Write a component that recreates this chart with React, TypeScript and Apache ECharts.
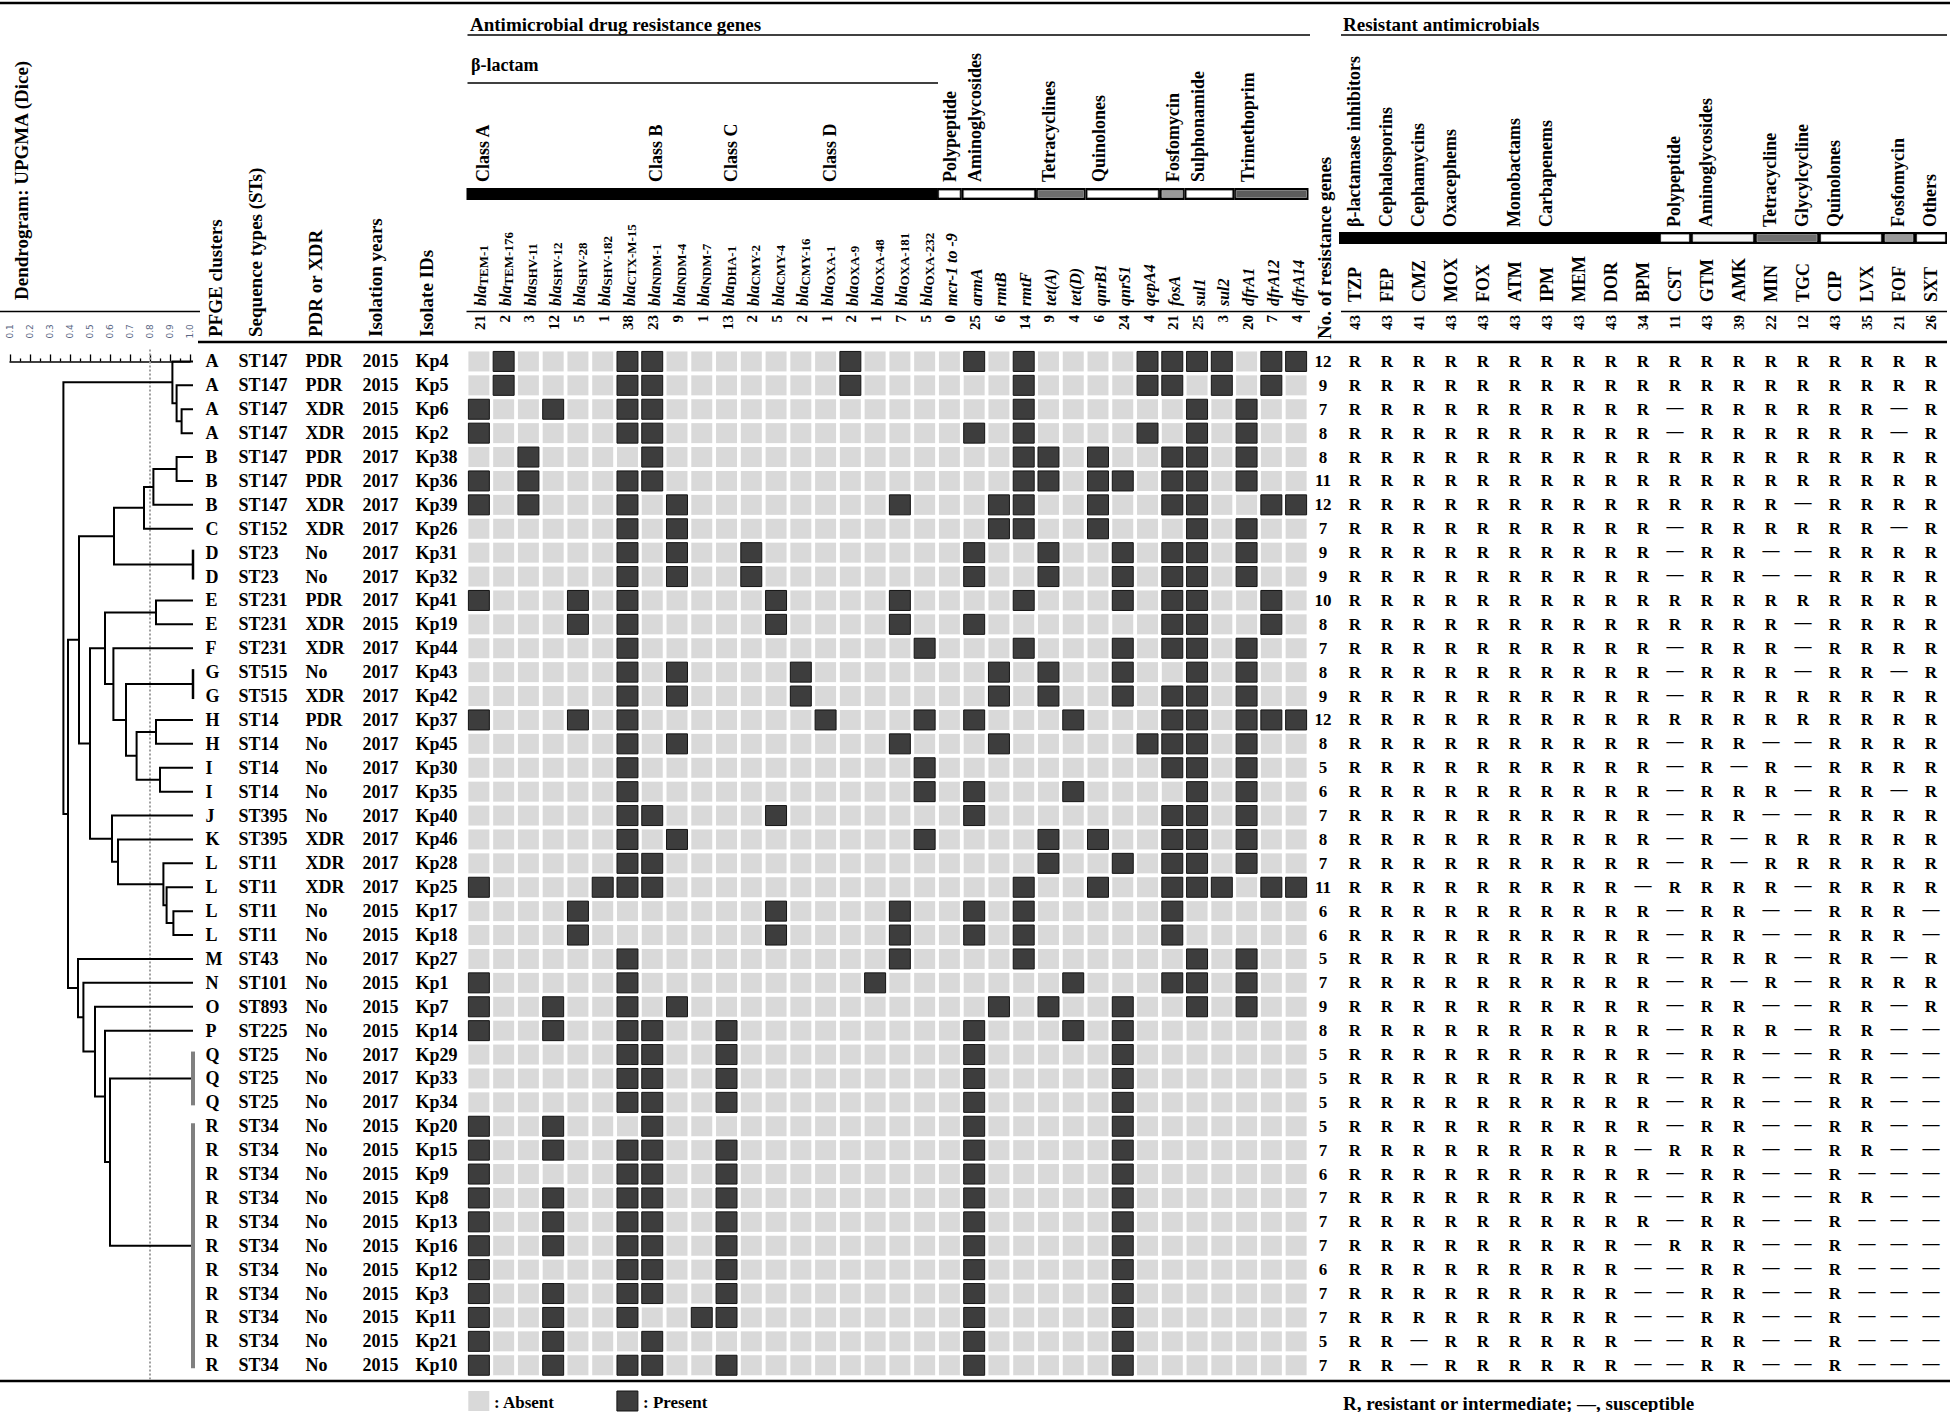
import React, { useEffect, useRef } from "react";
import * as echarts from "echarts";

// ---------------- DATA ----------------
const geneNames = [
  "blaTEM-1", "blaTEM-176", "blaSHV-11", "blaSHV-12", "blaSHV-28", "blaSHV-182", "blaCTX-M-15",
  "blaNDM-1", "blaNDM-4", "blaNDM-7", "blaDHA-1", "blaCMY-2", "blaCMY-4", "blaCMY-16",
  "blaOXA-1", "blaOXA-9", "blaOXA-48", "blaOXA-181", "blaOXA-232",
  "mcr-1 to -9", "armA", "rmtB", "rmtF", "tet(A)", "tet(D)", "qnrB1", "qnrS1", "qepA4",
  "fosA", "sul1", "sul2", "dfrA1", "dfrA12", "dfrA14",
];

const betaClassNames = ["Class A", "Class B", "Class C", "Class D"];
const betaClassStart = [0, 7, 10, 14];

const geneGroupNames = ["β-lactam", "Polypeptide", "Aminoglycosides", "Tetracyclines", "Quinolones", "Fosfomycin", "Sulphonamide", "Trimethoprim"];
const geneGroupFrom = [0, 19, 20, 23, 25, 28, 29, 31];
const geneGroupTo = [18, 19, 22, 24, 27, 28, 30, 33];

const drugNames = ["TZP", "FEP", "CMZ", "MOX", "FOX", "ATM", "IPM", "MEM", "DOR", "BPM", "CST", "GTM", "AMK", "MIN", "TGC", "CIP", "LVX", "FOF", "SXT"];
const drugGroupNames = ["β-lactamase inhibitors", "Cephalosporins", "Cephamycins", "Oxacephems", "Monobactams", "Carbapenems", "Polypeptide", "Aminoglycosides", "Tetracycline", "Glycylcycline", "Quinolones", "Fosfomycin", "Others"];
const drugGroupLabelAt = [0, 1, 2, 3, 5, 6, 10, 11, 13, 14, 15, 17, 18];
const drugBarFrom = [0, 10, 11, 13, 15, 17, 18];
const drugBarTo = [9, 10, 12, 14, 16, 17, 18];

const pfge = ["A", "A", "A", "A", "B", "B", "B", "C", "D", "D", "E", "E", "F", "G", "G", "H", "H", "I", "I", "J", "K", "L", "L", "L", "L", "M", "N", "O", "P", "Q", "Q", "Q", "R", "R", "R", "R", "R", "R", "R", "R", "R", "R", "R"];
const seqTypes = ["ST147", "ST147", "ST147", "ST147", "ST147", "ST147", "ST147", "ST152", "ST23", "ST23", "ST231", "ST231", "ST231", "ST515", "ST515", "ST14", "ST14", "ST14", "ST14", "ST395", "ST395", "ST11", "ST11", "ST11", "ST11", "ST43", "ST101", "ST893", "ST225", "ST25", "ST25", "ST25", "ST34", "ST34", "ST34", "ST34", "ST34", "ST34", "ST34", "ST34", "ST34", "ST34", "ST34"];
const pdrXdr = ["PDR", "PDR", "XDR", "XDR", "PDR", "PDR", "XDR", "XDR", "No", "No", "PDR", "XDR", "XDR", "No", "XDR", "PDR", "No", "No", "No", "No", "XDR", "XDR", "XDR", "No", "No", "No", "No", "No", "No", "No", "No", "No", "No", "No", "No", "No", "No", "No", "No", "No", "No", "No", "No"];
const years = ["2015", "2015", "2015", "2015", "2017", "2017", "2017", "2017", "2017", "2017", "2017", "2015", "2017", "2017", "2017", "2017", "2017", "2017", "2017", "2017", "2017", "2017", "2017", "2015", "2015", "2017", "2015", "2015", "2015", "2017", "2017", "2017", "2015", "2015", "2015", "2015", "2015", "2015", "2015", "2015", "2015", "2015", "2015"];
const isolateIds = ["Kp4", "Kp5", "Kp6", "Kp2", "Kp38", "Kp36", "Kp39", "Kp26", "Kp31", "Kp32", "Kp41", "Kp19", "Kp44", "Kp43", "Kp42", "Kp37", "Kp45", "Kp30", "Kp35", "Kp40", "Kp46", "Kp28", "Kp25", "Kp17", "Kp18", "Kp27", "Kp1", "Kp7", "Kp14", "Kp29", "Kp33", "Kp34", "Kp20", "Kp15", "Kp9", "Kp8", "Kp13", "Kp16", "Kp12", "Kp3", "Kp11", "Kp21", "Kp10"];

// genes present per isolate (column indices into geneNames)
const genesPresent = [
  [1, 6, 7, 15, 20, 22, 27, 28, 29, 30, 32, 33],
  [1, 6, 7, 15, 22, 27, 28, 30, 32],
  [0, 3, 6, 7, 22, 29, 31],
  [0, 6, 7, 20, 22, 27, 29, 31],
  [2, 7, 22, 23, 25, 28, 29, 31],
  [0, 2, 6, 7, 22, 23, 25, 26, 28, 29, 31],
  [0, 2, 6, 8, 17, 21, 22, 25, 28, 29, 32, 33],
  [6, 8, 21, 22, 25, 29, 31],
  [6, 8, 11, 20, 23, 26, 28, 29, 31],
  [6, 8, 11, 20, 23, 26, 28, 29, 31],
  [0, 4, 6, 12, 17, 22, 26, 28, 29, 32],
  [4, 6, 12, 17, 20, 28, 29, 32],
  [6, 18, 22, 26, 28, 29, 31],
  [6, 8, 13, 21, 23, 26, 29, 31],
  [6, 8, 13, 21, 23, 26, 28, 29, 31],
  [0, 4, 6, 14, 18, 20, 24, 28, 29, 31, 32, 33],
  [6, 8, 17, 21, 27, 28, 29, 31],
  [6, 18, 28, 29, 31],
  [6, 18, 20, 24, 29, 31],
  [6, 7, 12, 20, 28, 29, 31],
  [6, 8, 18, 23, 25, 28, 29, 31],
  [6, 7, 23, 26, 28, 29, 31],
  [0, 5, 6, 7, 22, 25, 28, 29, 30, 32, 33],
  [4, 12, 17, 20, 22, 28],
  [4, 12, 17, 20, 22, 28],
  [6, 17, 22, 29, 31],
  [0, 6, 16, 24, 28, 29, 31],
  [0, 3, 6, 8, 21, 23, 26, 29, 31],
  [0, 3, 6, 7, 10, 20, 24, 26],
  [6, 7, 10, 20, 26],
  [6, 7, 10, 20, 26],
  [6, 7, 10, 20, 26],
  [0, 3, 7, 20, 26],
  [0, 3, 6, 7, 10, 20, 26],
  [0, 6, 7, 10, 20, 26],
  [0, 3, 6, 7, 10, 20, 26],
  [0, 3, 6, 7, 10, 20, 26],
  [0, 3, 6, 7, 10, 20, 26],
  [0, 6, 7, 10, 20, 26],
  [0, 3, 6, 7, 10, 20, 26],
  [0, 3, 6, 9, 10, 20, 26],
  [0, 3, 7, 20, 26],
  [0, 3, 6, 7, 10, 20, 26],
];

// R = resistant or intermediate, - = susceptible (order of drugNames)
const resistance = [
  "RRRRRRRRRRRRRRRRRRR",
  "RRRRRRRRRRRRRRRRRRR",
  "RRRRRRRRRR-RRRRRR-R",
  "RRRRRRRRRR-RRRRRR-R",
  "RRRRRRRRRRRRRRRRRRR",
  "RRRRRRRRRRRRRRRRRRR",
  "RRRRRRRRRRRRRR-RRRR",
  "RRRRRRRRRR-RRRRRR-R",
  "RRRRRRRRRR-RR--RRRR",
  "RRRRRRRRRR-RR--RRRR",
  "RRRRRRRRRRRRRRRRRRR",
  "RRRRRRRRRRRRRR-RRRR",
  "RRRRRRRRRR-RRR-RRRR",
  "RRRRRRRRRR-RRR-RR-R",
  "RRRRRRRRRR-RRRRRRRR",
  "RRRRRRRRRRRRRRRRRRR",
  "RRRRRRRRRR-RR--RRRR",
  "RRRRRRRRRR-R-R-RRRR",
  "RRRRRRRRRR-RRR-RR-R",
  "RRRRRRRRRR-RR--RRRR",
  "RRRRRRRRRR-R-RRRRRR",
  "RRRRRRRRRR-R-RRRRRR",
  "RRRRRRRRR-RRRR-RRRR",
  "RRRRRRRRRR-RR--RRR-",
  "RRRRRRRRRR-RR--RRR-",
  "RRRRRRRRRR-RRR-RR-R",
  "RRRRRRRRRR-R-R-RRRR",
  "RRRRRRRRRR-RR--RR-R",
  "RRRRRRRRRR-RRR-RR--",
  "RRRRRRRRRR-RR--RR--",
  "RRRRRRRRRR-RR--RR--",
  "RRRRRRRRRR-RR--RR--",
  "RRRRRRRRRR-RR--RR--",
  "RRRRRRRRR-RRR--RR--",
  "RRRRRRRRRR-RR--R---",
  "RRRRRRRRR--RR--RR--",
  "RRRRRRRRRR-RR--R---",
  "RRRRRRRRR-RRR--R---",
  "RRRRRRRRR--RR--R---",
  "RRRRRRRRR--RR--R---",
  "RRRRRRRRR--RR--R---",
  "RR-RRRRRR--RR--R---",
  "RR-RRRRRR--RR--R---",
];

// UPGMA tree: [similarity, childA, childB]; leaves are row indices; "a-b" = identical rows
const dendroTree: any = [0.367,
  [0.912, 0, [0.933, 1, [0.958, 2, 3]]],
  [0.39,
    [0.445,
      [0.62, [0.77, [0.817, [0.933, 4, 5], 6], 7], "8-9"],
      [0.5,
        [0.575, [0.83, 10, 11], [0.617, 12, [0.68, "13-14", [0.733, [0.83, 15, 16], [0.85, 17, 18]]]]],
        [0.61, 19, [0.64, 20, [0.867, 21, [0.883, 22, [0.917, 23, 24]]]]],
      ],
    ],
    [0.44, 25, [0.467, 26, [0.525, 27, [0.575, 28, [0.6, "29-31", "32-42"]]]]],
  ],
];
const similarityCutoff = 0.8;

// ---------------- DERIVED ----------------
const nRows = isolateIds.length;
const geneCells: number[][] = [];
genesPresent.forEach((cols, r) => {
  geneNames.forEach((_, c) => geneCells.push([c, r, cols.indexOf(c) >= 0 ? 1 : 0]));
});
const geneCounts = geneNames.map((_, c) => genesPresent.filter((cols) => cols.indexOf(c) >= 0).length);
const genesPerIsolate = genesPresent.map((cols) => cols.length);
const drugCounts = drugNames.map((_, d) => resistance.filter((s) => s[d] === "R").length);

const rCells: number[][] = [];
const rTexts: string[] = [];
resistance.forEach((s, r) => {
  rCells.push([0, r]);
  rTexts.push(String(genesPerIsolate[r]));
  for (let d = 0; d < drugNames.length; d++) {
    rCells.push([d + 1, r]);
    rTexts.push(s[d] === "R" ? "R" : "—");
  }
});

const dendroLinks: number[][] = [];
const dendroTies: number[][] = [];
function walk(n: any): number[] {
  if (typeof n === "number") return [n, 1];
  if (typeof n === "string") {
    const [a, b] = n.split("-").map(Number);
    dendroTies.push([1, a, b]);
    return [(a + b) / 2, 1];
  }
  const [s, A, B] = n;
  const a = walk(A);
  const b = walk(B);
  dendroLinks.push([s, a[0], a[1], b[0], b[1]]);
  return [(a[0] + b[0]) / 2, s];
}
walk(dendroTree);

// ---------------- LAYOUT ----------------
const W = 1950;
const H = 1412;
const FONT = '"Liberation Serif", "Times New Roman", serif';
const GT = 349.5;
const GH = 1027.7;
const GX = 466.5;
const GW = 842;
const RX = 1307;
const RW = 640;
const DX = 10;
const DW = 180;
const ROT = Math.PI / 2;

const bold = (px: number) => `bold ${px}px ${FONT}`;

function T(x: number, y: number, text: string, font: string, align = "left", valign = "middle", rotation = 0) {
  return {
    type: "text", x, y, rotation, silent: true,
    style: { text, font, fill: "#000", textFill: "#000", align, verticalAlign: valign, textAlign: align, textVerticalAlign: valign },
  };
}
function L(x1: number, y1: number, x2: number, y2: number, w: number) {
  return { type: "line", silent: true, shape: { x1, y1, x2, y2 }, style: { stroke: "#000", lineWidth: w } };
}
function rt(x: number, y: number, text: string, font: string, align: string) {
  return { type: "text", x, y, rotation: ROT, style: { text, font, fill: "#000", textFill: "#000", align, verticalAlign: "middle", textAlign: align, textVerticalAlign: "middle" } };
}

const geneRich = {
  i: { font: `italic bold 16px ${FONT}`, fill: "#000", textFill: "#000", lineHeight: 18 },
  s: { font: bold(13), fill: "#000", textFill: "#000", lineHeight: 18, verticalAlign: "bottom" },
};

const barFills: Record<string, string> = {
  "β-lactam": "#000", Polypeptide: "#fff", Aminoglycosides: "#fff", Tetracyclines: "#6e6e6e",
  Quinolones: "#fff", Fosfomycin: "#9a9a9a", Sulphonamide: "#fff", Trimethoprim: "#5c5c5c",
};
const drugBarFills = ["#000", "#fff", "#f2f2f2", "#6e6e6e", "#fff", "#9a9a9a", "#fff"];

function barElems(api: any, from: number, to: number, y: number, h: number, fill: string) {
  const band = api.size([1, 1])[0];
  const x1 = api.coord([from, 0])[0] - band / 2;
  const x2 = api.coord([to, 0])[0] + band / 2;
  const els: any[] = [{ type: "rect", shape: { x: x1, y, width: x2 - x1, height: h }, style: { fill: "#000" } }];
  if (fill !== "#000") {
    els.push({ type: "rect", shape: { x: x1 + 2, y: y + 2.5, width: x2 - x1 - 4, height: h - 5 }, style: { fill, stroke: "#bbb", lineWidth: 0.6 } });
  }
  return els;
}

const rowTok = (w: number) => ({ fontFamily: FONT, fontWeight: "bold", fontSize: 18, width: w, align: "left", color: "#000" });
const rowRich = { a: rowTok(33), b: rowTok(67), c: rowTok(57), d: rowTok(53), e: rowTok(50) };

function buildOption(): any {
  const graphicEls: any[] = [
    L(0, 3, W, 3, 2.5),
    T(470, 24, "Antimicrobial drug resistance genes", bold(19)),
    L(GX + 1, 35, 1310, 35, 1.6),
    T(1343, 24, "Resistant antimicrobials", bold(19)),
    L(1341, 35, 1947, 35, 1.6),
    T(471, 65, "β-lactam", bold(18)),
    L(GX + 1, 83, 938, 83, 1.6),
    L(0, 311.5, 200, 311.5, 1.6),
    L(GX, 311.5, 1310, 311.5, 1.6),
    L(1341, 311.5, 1947, 311.5, 1.6),
    L(198, 342, 1947, 342, 2.6),
    L(0, 1381, W, 1381, 2.6),
    T(21, 300, "Dendrogram: UPGMA (Dice)", bold(19), "left", "middle", ROT),
    T(215, 337, "PFGE clusters", bold(19), "left", "middle", ROT),
    T(255, 337, "Sequence types (STs)", bold(19), "left", "middle", ROT),
    T(315, 337, "PDR or XDR", bold(19), "left", "middle", ROT),
    T(375, 337, "Isolation years", bold(19), "left", "middle", ROT),
    T(426, 337, "Isolate IDs", bold(19), "left", "middle", ROT),
    { type: "rect", silent: true, shape: { x: 468.3, y: 1391, width: 21, height: 20 }, style: { fill: "#d9d9d9" } },
    T(494, 1402, ": Absent", bold(17)),
    { type: "rect", silent: true, shape: { x: 616.9, y: 1391, width: 21, height: 20 }, style: { fill: "#3d3d3d", stroke: "#141414", lineWidth: 1 } },
    T(643, 1402, ": Present", bold(17)),
    T(1343, 1403, "R, resistant or intermediate; —, susceptible", bold(19)),
  ];

  return {
    animation: false,
    backgroundColor: "#fff",
    grid: [
      { left: GX, top: GT, width: GW, height: GH },
      { left: RX, top: GT, width: RW, height: GH },
      { left: DX, top: GT, width: DW, height: GH },
    ],
    xAxis: [
      { gridIndex: 0, type: "category", data: geneNames, show: false },
      { gridIndex: 1, type: "category", data: ["No."].concat(drugNames), show: false },
      {
        gridIndex: 2, type: "value", min: 0.1, max: 1, interval: 0.1, position: "top",
        axisLine: { show: true, lineStyle: { color: "#000", width: 1.5 } },
        axisTick: { show: true, length: 7, lineStyle: { color: "#000", width: 1.3 } },
        minorTick: { show: true, splitNumber: 2, length: 3, lineStyle: { color: "#000", width: 1.3 } },
        splitLine: { show: false },
        axisLabel: { rotate: 90, fontSize: 9, fontFamily: "DejaVu Sans", color: "#5a6784", margin: 11, formatter: (v: number) => v.toFixed(1) },
      },
    ],
    yAxis: [
      {
        gridIndex: 0, type: "category", data: isolateIds, inverse: true,
        axisLine: { show: false }, axisTick: { show: false },
        axisLabel: {
          interval: 0, margin: 1,
          formatter: (_v: string, i: number) => `{a|${pfge[i]}}{b|${seqTypes[i]}}{c|${pdrXdr[i]}}{d|${years[i]}}{e|${isolateIds[i]}}`,
          rich: rowRich,
        },
      },
      { gridIndex: 1, type: "category", data: isolateIds, inverse: true, show: false },
      { gridIndex: 2, type: "value", min: -0.5, max: nRows - 0.5, inverse: true, show: false },
    ],
    series: [
      // gene presence grid
      {
        type: "custom", xAxisIndex: 0, yAxisIndex: 0, data: geneCells, silent: true,
        renderItem: (_p: any, api: any) => {
          const c = api.coord([api.value(0), api.value(1)]);
          const s = api.size([1, 1]);
          const w = s[0] - 3.8;
          const h = s[1] - 3.9;
          const on = api.value(2) === 1;
          return {
            type: "rect",
            shape: { x: c[0] - w / 2, y: c[1] - h / 2, width: w, height: h },
            style: on ? { fill: "#3d3d3d", stroke: "#141414", lineWidth: 1 } : { fill: "#d9d9d9" },
          };
        },
      },
      // gene headers
      {
        type: "custom", xAxisIndex: 0, yAxisIndex: 0, clip: false, silent: true,
        data: geneNames.map((_, i) => [i, 0]),
        renderItem: (p: any, api: any) => {
          const i = p.dataIndex;
          const x = api.coord([i, 0])[0];
          const name = geneNames[i];
          const label = name.indexOf("bla") === 0 ? `{i|bla}{s|${name.slice(3)}}` : `{i|${name}}`;
          const children: any[] = [
            { type: "text", x: x + 2, y: 306, rotation: ROT, style: { text: label, rich: geneRich, align: "left", verticalAlign: "middle", textAlign: "left", textVerticalAlign: "middle" } },
            rt(x + 1, 315, String(geneCounts[i]), bold(15), "right"),
          ];
          const ci = betaClassStart.indexOf(i);
          if (ci >= 0) children.push(rt(x + 4, 182, betaClassNames[ci], bold(18), "left"));
          const gi = geneGroupFrom.indexOf(i);
          if (gi > 0) children.push(rt(x + 1, 182, geneGroupNames[gi], bold(18), "left"));
          if (gi >= 0) {
            barElems(api, geneGroupFrom[gi], geneGroupTo[gi], 188, 12, barFills[geneGroupNames[gi]]).forEach((e) => children.push(e));
          }
          return { type: "group", children };
        },
      },
      // resistance table text
      {
        type: "custom", xAxisIndex: 1, yAxisIndex: 1, data: rCells, silent: true,
        renderItem: (p: any, api: any) => {
          const c = api.coord([api.value(0), api.value(1)]);
          const t = rTexts[p.dataIndex];
          return {
            type: "text", x: c[0], y: c[1] + (t === "—" ? -2 : 0),
            style: { text: t, font: bold(17), fill: "#000", textFill: "#000", align: "center", verticalAlign: "middle", textAlign: "center", textVerticalAlign: "middle" },
          };
        },
      },
      // resistance headers
      {
        type: "custom", xAxisIndex: 1, yAxisIndex: 1, clip: false, silent: true,
        data: ["No."].concat(drugNames).map((_, i) => [i, 0]),
        renderItem: (p: any, api: any) => {
          const i = p.dataIndex;
          const x = api.coord([i, 0])[0];
          const children: any[] = [];
          if (i === 0) {
            children.push(rt(x + 1, 339, "No. of resistance genes", bold(19), "left"));
          } else {
            const d = i - 1;
            children.push(rt(x, 302, drugNames[d], bold(18), "left"));
            children.push(rt(x, 315, String(drugCounts[d]), bold(15), "right"));
            const gi = drugGroupLabelAt.indexOf(d);
            if (gi >= 0) children.push(rt(x - 1, 227, drugGroupNames[gi], bold(18), "left"));
            const bi = drugBarFrom.indexOf(d);
            if (bi >= 0) {
              barElems(api, drugBarFrom[bi] + 1, drugBarTo[bi] + 1, 232, 12, drugBarFills[bi]).forEach((e) => children.push(e));
            }
          }
          return { type: "group", children };
        },
      },
      // cutoff dotted line
      {
        type: "custom", xAxisIndex: 2, yAxisIndex: 2, clip: false, silent: true,
        data: [[similarityCutoff, -0.5, nRows - 0.5]],
        renderItem: (_p: any, api: any) => {
          const a = api.coord([api.value(0), api.value(1)]);
          const b = api.coord([api.value(0), api.value(2)]);
          return { type: "line", shape: { x1: a[0], y1: a[1], x2: b[0], y2: b[1] + 4 }, style: { stroke: "#a0a0a0", lineWidth: 2, lineDash: [2, 2] } };
        },
      },
      // dendrogram links
      {
        type: "custom", xAxisIndex: 2, yAxisIndex: 2, clip: false, silent: true, data: dendroLinks,
        renderItem: (_p: any, api: any) => {
          const s = api.value(0), ya = api.value(1), sa = api.value(2), yb = api.value(3), sb = api.value(4);
          const pA = api.coord([sa, ya]);
          const n1 = api.coord([s, ya]);
          const n2 = api.coord([s, yb]);
          const pB = api.coord([sb, yb]);
          if (sa === 1) pA[0] += 3;
          if (sb === 1) pB[0] += 3;
          return { type: "polyline", shape: { points: [pA, n1, n2, pB] }, style: { stroke: "#000", lineWidth: 2, fill: null } };
        },
      },
      // identical isolates (ties)
      {
        type: "custom", xAxisIndex: 2, yAxisIndex: 2, clip: false, silent: true, data: dendroTies,
        renderItem: (_p: any, api: any) => {
          const a = api.coord([api.value(0), api.value(1)]);
          const b = api.coord([api.value(0), api.value(2)]);
          const big = api.value(2) - api.value(1) > 1;
          return {
            type: "line",
            shape: { x1: a[0] + 3, y1: a[1] - 3, x2: b[0] + 3, y2: b[1] + 3 },
            style: { stroke: big ? "#808080" : "#000", lineWidth: big ? 4 : 2.5 },
          };
        },
      },
    ],
    graphic: { elements: graphicEls },
  };
}

export default function App() {
  const ref = useRef<HTMLDivElement>(null);
  useEffect(() => {
    if (!ref.current) return;
    const chart = echarts.init(ref.current, null, { renderer: "svg" });
    chart.setOption(buildOption());
    return () => chart.dispose();
  }, []);
  return <div ref={ref} style={{ position: "absolute", left: 0, top: 0, width: W, height: H, background: "#fff" }} />;
}
